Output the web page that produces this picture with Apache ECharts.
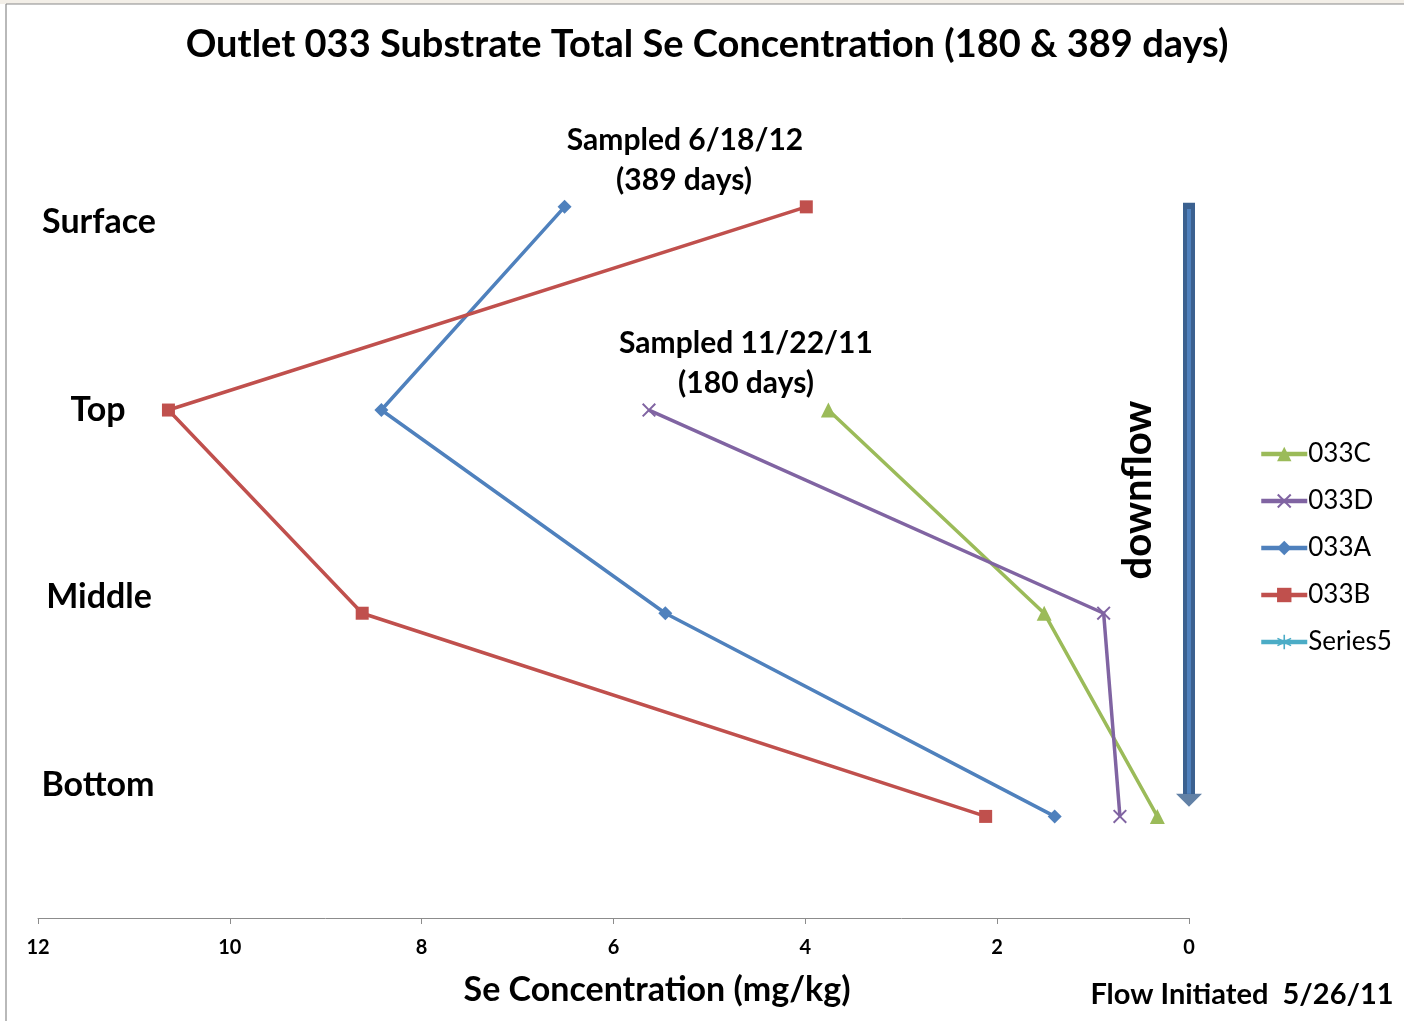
<!DOCTYPE html>
<html>
<head>
<meta charset="utf-8">
<script src="https://cdn.jsdelivr.net/npm/echarts@6/dist/echarts.min.js"></script>
<style>
  html, body { margin: 0; padding: 0; background: #ffffff; }
  #chart { width: 1404px; height: 1021px; }
</style>
</head>
<body>
<div id="chart"></div>
<script>
// Depth levels (1 = Surface ... 4 = Bottom), Se concentration in mg/kg
const levels = ['Surface', 'Top', 'Middle', 'Bottom'];
const depthA = [1, 2, 3, 4];
const se033A = [6.51, 8.42, 5.46, 1.40];
const depthB = [1, 2, 3, 4];
const se033B = [3.99, 10.64, 8.62, 2.12];
const depthC = [2, 3, 4];
const se033C = [3.76, 1.51, 0.33];
const depthD = [2, 3, 4];
const se033D = [5.63, 0.89, 0.72];
const xTicks = [0, 2, 4, 6, 8, 10, 12];
// downflow arrow: x = 0, from just above Surface to just above Bottom
const arrowDepth = [0.98, 3.89];
const arrowTip = 3.92;

const FONT = 'Lato';
const pairs = (xs, ys) => xs.map((x, i) => [x, ys[i]]);

const xMarker = 'path://M0,1 L1,0 L5,4 L9,0 L10,1 L6,5 L10,9 L9,10 L5,6 L1,10 L0,9 L4,5 Z';
const starMarker = 'path://M4.5,0 L5.5,0 L5.5,4 L9,2 L9.5,2.9 L6,5 L9.5,7.1 L9,8 L5.5,6 L5.5,10 L4.5,10 L4.5,6 L1,8 L0.5,7.1 L4,5 L0.5,2.9 L1,2 L4.5,4 Z';

const chart = echarts.init(document.getElementById('chart'));

const textGraphic = (text, x, y, size, extra) => Object.assign({
  type: 'text', x: x, y: y,
  style: { text: text, font: 'bold ' + size + 'px ' + FONT, fill: '#000',
           textAlign: 'center', textVerticalAlign: 'middle' }
}, extra || {});

chart.setOption({
  backgroundColor: '#ffffff',
  animation: false,
  grid: { left: 38, right: 215, top: 3.67, bottom: 103, containLabel: false },
  xAxis: {
    type: 'value', inverse: true, min: 0, max: 12, interval: 2, position: 'bottom',
    axisLine: { onZero: false, lineStyle: { color: '#8c8c8c', width: 1 } },
    axisTick: { show: true, length: 6, inside: false, lineStyle: { color: '#8c8c8c' } },
    axisLabel: { fontFamily: FONT, fontWeight: 'bold', fontSize: 20, color: '#000', margin: 20 },
    splitLine: { show: false }
  },
  yAxis: {
    type: 'value', inverse: true, min: 0, max: 4.5,
    show: false
  },
  legend: {
    orient: 'vertical', left: 1254, top: 436, itemGap: 21,
    itemWidth: 46, itemHeight: 18,
    data: ['033C', '033D', '033A', '033B', 'Series5'],
    lineStyle: { width: 4.5 },
    textStyle: { fontFamily: FONT, fontSize: 26, color: '#000', padding: [0, 0, 0, -4] }
  },
  series: [
    { name: '033A', type: 'line', data: pairs(se033A, depthA),
      color: '#4f81bd', lineStyle: { width: 3.5 }, symbol: 'diamond', symbolSize: 14 },
    { name: '033B', type: 'line', data: pairs(se033B, depthB),
      color: '#c0504d', lineStyle: { width: 3.5 }, symbol: 'rect', symbolSize: 13 },
    { name: '033C', type: 'line', data: pairs(se033C, depthC),
      color: '#9bbb59', lineStyle: { width: 3.5 }, symbol: 'triangle', symbolSize: 15 },
    { name: '033D', type: 'line', data: pairs(se033D, depthD),
      color: '#8064a2', lineStyle: { width: 3.5 }, symbol: xMarker, symbolSize: 14 },
    { name: 'Series5', type: 'line', data: [],
      color: '#4bacc6', lineStyle: { width: 3.5 }, symbol: starMarker, symbolSize: 14 },
    // downflow arrow shaft (dark edge + lighter core) and head
    { name: 'arrowShaft', type: 'line', data: [[0, arrowDepth[0]], [0, arrowDepth[1]]],
      color: '#3b6190', lineStyle: { width: 12, cap: 'butt' }, symbol: 'none', silent: true, z: 1 },
    { name: 'arrowCore', type: 'line', data: [[0, arrowDepth[0] + 0.03], [0, arrowDepth[1]]],
      color: '#4f81bd', lineStyle: { width: 4, cap: 'butt' }, symbol: 'none', silent: true, z: 2 },
    { name: 'arrowHead', type: 'scatter', data: [[0, arrowTip]],
      symbol: 'triangle', symbolRotate: 180, symbolSize: [26, 13],
      itemStyle: { color: '#3b6190' }, silent: true, z: 2 }
  ],
  graphic: [
    { type: 'rect', shape: { x: 0, y: 0, width: 1404, height: 4 }, style: { fill: '#f3efe8' } },
    { type: 'line', shape: { x1: 6, y1: 4, x2: 1404, y2: 4 }, style: { stroke: '#8a8a8a', lineWidth: 1.2 } },
    { type: 'line', shape: { x1: 6, y1: 4, x2: 6, y2: 1021 }, style: { stroke: '#8a8a8a', lineWidth: 1.2 } },
    textGraphic('Outlet 033 Substrate Total Se Concentration (180 & 389 days)', 707, 45, 38),
    textGraphic(levels[0], 99, 222, 34),
    textGraphic(levels[1], 98, 410, 34),
    textGraphic(levels[2], 99, 597, 34),
    textGraphic(levels[3], 98, 785, 34),
    textGraphic('Sampled 6/18/12', 685, 140, 30),
    textGraphic('(389 days)', 684, 180, 30),
    textGraphic('Sampled 11/22/11', 746, 343, 30),
    textGraphic('(180 days)', 746, 383, 30),
    textGraphic('downflow', 1138, 490, 40, { rotation: Math.PI / 2 }),
    textGraphic('Se Concentration (mg/kg)', 657, 990, 34),
    textGraphic('Flow Initiated  5/26/11', 1242, 995, 29)
  ]
});
</script>
</body>
</html>
